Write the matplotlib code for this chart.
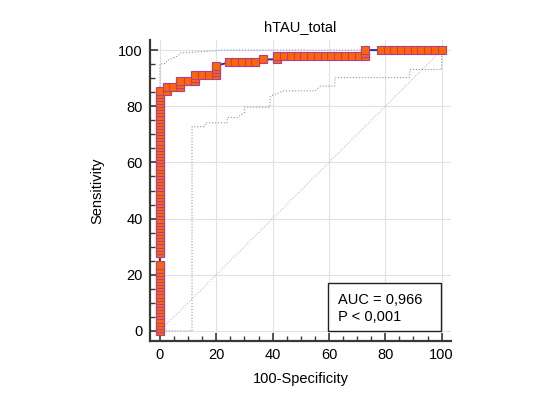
import matplotlib.pyplot as plt
from matplotlib.patches import Rectangle

plt.rcParams['font.family'] = ['Liberation Sans', 'DejaVu Sans']

# ROC DATA (100-Specificity, Sensitivity)
# points stacked at 100-Specificity = 0
col_sens = [0, 1.1, 2.2, 3.3, 4.4, 5.6, 6.7, 7.8, 8.9, 10.0, 11.1, 12.2, 13.3,
            14.4, 15.6, 16.7, 17.8, 18.9, 20.0, 21.1, 22.2, 23.3,
            27.8, 28.9, 30.0, 31.1, 32.2, 33.3, 34.4, 35.6, 36.7, 37.8, 38.9,
            40.0, 41.1, 42.2, 43.3, 44.4, 45.6, 46.7, 47.8, 48.9, 50.0, 51.1,
            52.2, 53.3, 54.4, 55.6, 56.7, 57.8, 58.9, 60.0, 61.1, 62.2, 63.3,
            64.4, 65.6, 66.7, 67.8, 68.9, 70.0, 71.1, 72.2, 73.3, 74.4, 75.6,
            76.7, 77.8, 78.9, 80.0, 81.1, 82.2, 83.3, 84.4, 85.6]

# remaining staircase
step_fpr = [2.4, 2.4, 4.8, 7.3, 7.3, 7.3, 9.8, 12.3, 12.3, 12.3, 14.8, 17.3,
            19.8, 19.8, 19.8, 19.8,
            24.4, 26.8, 29.2, 31.5, 33.9, 36.7, 41.5, 41.5,
            44.1, 46.5, 48.9, 51.3, 53.7, 56.1, 58.5, 60.9, 63.3, 65.7, 68.1,
            70.5, 72.9, 72.9, 72.9,
            78.4, 80.8, 83.2, 85.6, 88.0, 90.4, 92.8, 95.2, 97.6, 100.0]
step_sens = [85.6, 86.7, 86.7, 86.7, 87.8, 88.9, 88.9, 88.9, 90.0, 91.1, 91.1,
             91.1, 91.1, 92.2, 93.3, 94.4,
             95.6, 95.6, 95.6, 95.6, 95.6, 96.7, 96.7, 97.8,
             97.8, 97.8, 97.8, 97.8, 97.8, 97.8, 97.8, 97.8, 97.8, 97.8, 97.8,
             97.8, 97.8, 98.9, 100.0,
             100.0, 100.0, 100.0, 100.0, 100.0, 100.0, 100.0, 100.0, 100.0,
             100.0]

# confidence bounds
upper_x = [0, 0, 2.1, 2.4, 6.5, 7.1, 17.1, 22.5, 100]
upper_y = [0, 95.0, 95.3, 96.2, 98.0, 99.0, 99.6, 100, 100]
lower_x = [0, 11.4, 11.4, 15.8, 16.2, 23.8, 24.0, 27.5, 30.0, 30.0, 39.0,
           39.2, 44.0, 55.0, 57.0, 62.0, 62.2, 88.6, 88.8, 100, 100]
lower_y = [0, 0, 72.7, 72.7, 74.1, 74.1, 76.0, 76.0, 77.8, 79.7, 79.7, 83.6,
           85.5, 85.5, 87.2, 87.2, 90.2, 90.2, 93.1, 93.1, 100]

auc_text = "AUC = 0,966"
p_text = "P < 0,001"

fpr = [0.0] * len(col_sens) + step_fpr
sens = col_sens + step_sens

# PLOT
fig = plt.figure(figsize=(5.4, 4.05), dpi=100)
ax = fig.add_axes([149.5 / 540, 64 / 405, 302 / 540, 301 / 405])

ax.set_xlim(-3.7, 103.5)
ax.set_ylim(-3.6, 103.6)
ax.set_xticks([0, 20, 40, 60, 80, 100])
ax.set_yticks([0, 20, 40, 60, 80, 100])
ax.set_xticks(range(0, 101, 5), minor=True)
ax.set_yticks(range(0, 101, 5), minor=True)
ax.grid(True, which="major", color="#e2e2e2", lw=0.8)
ax.set_axisbelow(True)

ax.plot([0, 100], [0, 100], ls=":", color="#dba5a5", lw=0.7)
ax.plot(upper_x, upper_y, ls=":", color="#8c8ce2", lw=0.8)
ax.plot(lower_x, lower_y, ls=":", color="#8c8ce2", lw=0.8)
ax.plot(fpr, sens, color="#2a2aa8", lw=1.4, marker="s", ms=5.2,
        mfc="#ff6600", mec="#b0408e", mew=0.8, clip_on=False, zorder=3)

for s in ["top", "right"]:
    ax.spines[s].set_visible(False)
for s in ["left", "bottom"]:
    ax.spines[s].set_color("#383838")
    ax.spines[s].set_linewidth(1.6)

ax.tick_params(which="major", direction="in", length=6, width=1.2,
               color="#383838", labelsize=10.5, pad=5)
ax.tick_params(which="minor", direction="in", length=3.5, width=1.0,
               color="#383838")

ax.set_title("hTAU_total", fontsize=10.5, pad=6.5)
ax.set_xlabel("100-Specificity", fontsize=10.5, labelpad=7)
ax.set_ylabel("Sensitivity", fontsize=10.5, labelpad=10)

box = Rectangle((0.592, 0.032), 0.372, 0.16, transform=ax.transAxes,
                facecolor="white", edgecolor="#202020", lw=1.0, zorder=4)
ax.add_patch(box)
ax.text(0.625, 0.136, auc_text, transform=ax.transAxes, fontsize=10.5,
        va="center", ha="left", zorder=5)
ax.text(0.625, 0.080, p_text, transform=ax.transAxes, fontsize=10.5,
        va="center", ha="left", zorder=5)

plt.savefig("out.png", dpi=100)
